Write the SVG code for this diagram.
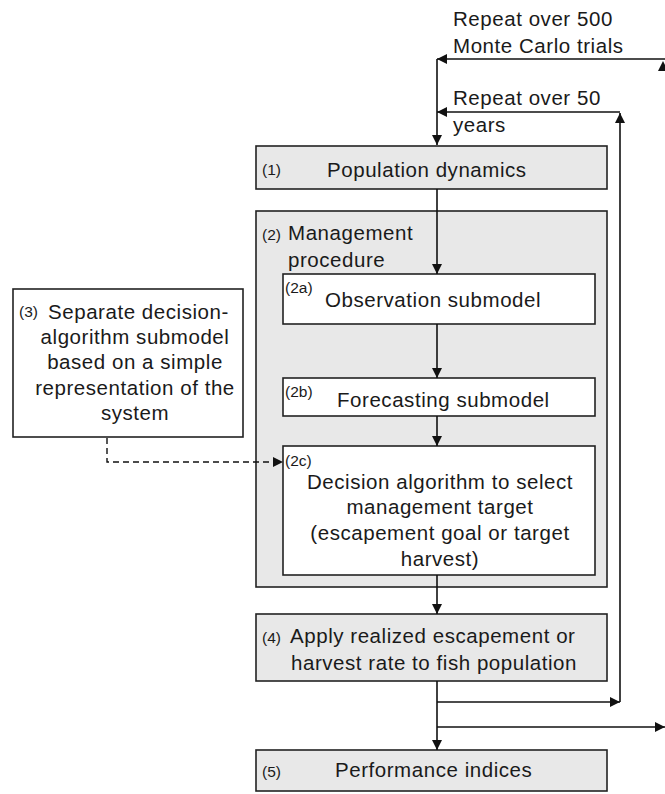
<svg xmlns="http://www.w3.org/2000/svg" width="665" height="794" viewBox="0 0 665 794">
<style>
.box{fill:#e8e8e8;stroke:#222;stroke-width:1.6}
.wbox{fill:#fff;stroke:#222;stroke-width:1.6}
.t{font-family:"Liberation Sans",Arial,sans-serif;font-size:20.5px;letter-spacing:0.55px;fill:#1a1a1a}
.s{font-family:"Liberation Sans",Arial,sans-serif;font-size:15.5px;fill:#1a1a1a}
.c{text-anchor:middle}
.ln{fill:none;stroke:#111;stroke-width:1.6}
.dash{fill:none;stroke:#111;stroke-width:1.4;stroke-dasharray:6 4}
</style>
<defs>
<marker id="ah" viewBox="0 0 10 10" refX="10" refY="5" markerWidth="10" markerHeight="10" markerUnits="userSpaceOnUse" orient="auto">
<path d="M0,0 L10,5 L0,10 Z" fill="#111"/>
</marker>
</defs>
<g id="labels">
<text class="t" x="453" y="26">Repeat over 500</text>
<text class="t" x="453" y="53">Monte Carlo trials</text>
<text class="t" x="453" y="105">Repeat over 50</text>
<text class="t" x="453" y="132">years</text>
</g>
<g id="node1">
<rect class="box" x="256" y="146" width="351" height="43"/>
<text class="s" x="262" y="175">(1)</text>
<text class="t" x="327" y="177">Population dynamics</text>
</g>
<g id="node2">
<rect class="box" x="256" y="211" width="351" height="376"/>
<text class="s" x="262" y="240">(2)</text>
<text class="t" x="288" y="240">Management</text>
<text class="t" x="288" y="267">procedure</text>
</g>
<g id="node2a">
<rect class="wbox" x="283" y="274" width="312" height="50"/>
<text class="s" x="285" y="293">(2a)</text>
<text class="t" x="325" y="307">Observation submodel</text>
</g>
<g id="node2b">
<rect class="wbox" x="283" y="378" width="312" height="38"/>
<text class="s" x="285" y="397">(2b)</text>
<text class="t" x="337" y="407">Forecasting submodel</text>
</g>
<g id="node2c">
<rect class="wbox" x="283" y="446" width="312" height="129"/>
<text class="s" x="285" y="466">(2c)</text>
<text class="t c" x="440" y="489">Decision algorithm to select</text>
<text class="t c" x="440" y="514">management target</text>
<text class="t c" x="440" y="540">(escapement goal or target</text>
<text class="t c" x="440" y="566">harvest)</text>
</g>
<g id="node3">
<rect class="wbox" x="13" y="289" width="230" height="148"/>
<text class="s" x="19" y="317">(3)</text>
<text class="t" x="48" y="319">Separate decision-</text>
<text class="t c" x="135" y="344">algorithm submodel</text>
<text class="t c" x="135" y="369">based on a simple</text>
<text class="t c" x="135" y="395">representation of the</text>
<text class="t c" x="135" y="420">system</text>
</g>
<g id="node4">
<rect class="box" x="256" y="614" width="351" height="67"/>
<text class="s" x="262" y="643">(4)</text>
<text class="t" x="290" y="643">Apply realized escapement or</text>
<text class="t" x="291" y="670">harvest rate to fish population</text>
</g>
<g id="node5">
<rect class="box" x="256" y="750" width="351" height="41"/>
<text class="s" x="262" y="777">(5)</text>
<text class="t" x="335" y="777">Performance indices</text>
</g>
<g id="connectors">
<path class="ln" d="M665,59 H437" marker-end="url(#ah)"/>
<path class="ln" d="M437,59 V145" marker-end="url(#ah)"/>
<path class="ln" d="M620,702 V113" marker-end="url(#ah)"/>
<path class="ln" d="M620,112 H437" marker-end="url(#ah)"/>
<path class="ln" d="M437,189 V274" marker-end="url(#ah)"/>
<path class="ln" d="M437,324 V378" marker-end="url(#ah)"/>
<path class="ln" d="M437,416 V446" marker-end="url(#ah)"/>
<path class="ln" d="M437,575 V614" marker-end="url(#ah)"/>
<path class="ln" d="M437,681 V750" marker-end="url(#ah)"/>
<path class="ln" d="M437,702 H620" marker-end="url(#ah)"/>
<path class="ln" d="M437,727 H665" marker-end="url(#ah)"/>
<path class="dash" d="M107,438 V462 H283" marker-end="url(#ah)"/>
<path d="M663,61 L668,71 L658,71 Z" fill="#111"/>
</g>
</svg>
